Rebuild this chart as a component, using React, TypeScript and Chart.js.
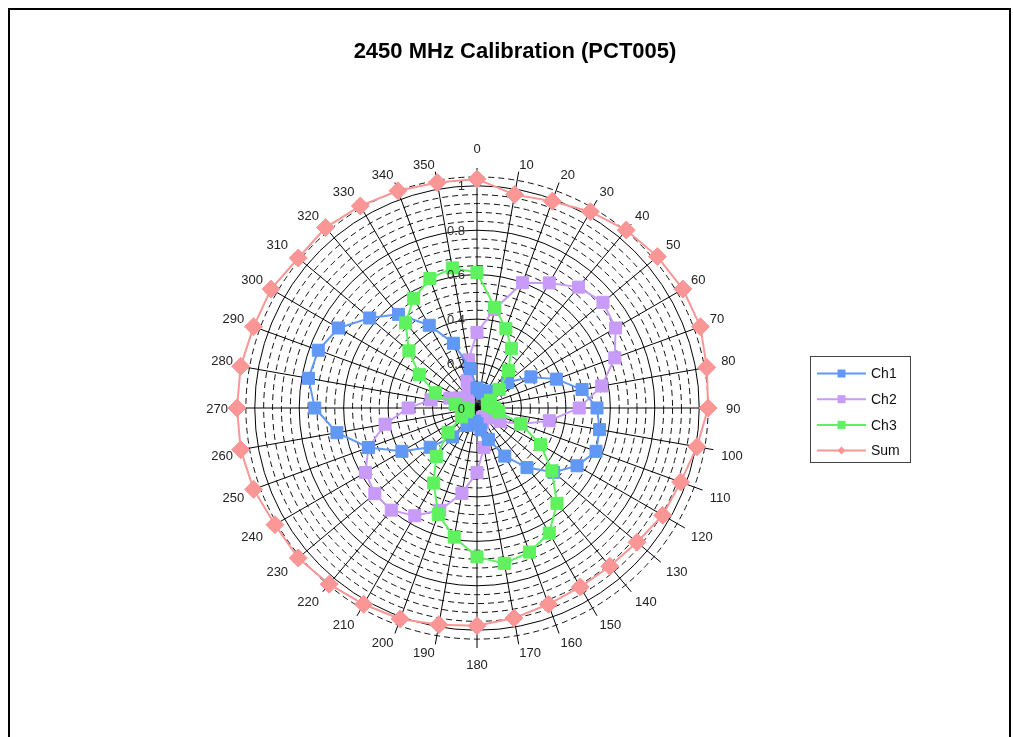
import React, { useEffect, useRef } from "react";
import { Chart, registerables } from "chart.js";

Chart.register(...registerables);

const chartTitle = "2450 MHz Calibration (PCT005)";
const angleLabels = [
  "0", "10", "20", "30", "40", "50", "60", "70", "80", "90", "100", "110",
  "120", "130", "140", "150", "160", "170", "180", "190", "200", "210", "220", "230",
  "240", "250", "260", "270", "280", "290", "300", "310", "320", "330", "340", "350",
];
const ch1 = [
  0.09, 0.08, 0.07, 0.08, 0.1, 0.18, 0.28, 0.38, 0.48, 0.54, 0.56, 0.57,
  0.52, 0.45, 0.35, 0.25, 0.15, 0.1, 0.07, 0.06, 0.07, 0.09, 0.17, 0.275,
  0.39, 0.52, 0.64, 0.73, 0.77, 0.76, 0.72, 0.63, 0.55, 0.43, 0.31, 0.18,
];
const ch2 = [
  0.34, 0.45, 0.6, 0.65, 0.71, 0.74, 0.72, 0.66, 0.57, 0.46, 0.33, 0.21,
  0.12, 0.07, 0.05, 0.05, 0.07, 0.18, 0.29, 0.39, 0.49, 0.56, 0.6, 0.6,
  0.58, 0.52, 0.42, 0.31, 0.21, 0.13, 0.09, 0.07, 0.06, 0.08, 0.13, 0.22,
];
const ch3 = [
  0.61, 0.46, 0.38, 0.31, 0.22, 0.13, 0.07, 0.05, 0.06, 0.08, 0.1, 0.21,
  0.33, 0.44, 0.56, 0.65, 0.69, 0.71, 0.67, 0.59, 0.51, 0.39, 0.285, 0.17,
  0.08, 0.05, 0.04, 0.06, 0.1, 0.2, 0.3, 0.4, 0.5, 0.57, 0.62, 0.64,
];
const sum = [
  1.03, 0.975, 0.99, 1.02, 1.045, 1.06, 1.07, 1.07, 1.05, 1.04, 1.005, 0.975,
  0.965, 0.94, 0.93, 0.93, 0.94, 0.96, 0.98, 0.99, 1.01, 1.02, 1.035, 1.05,
  1.05, 1.07, 1.08, 1.08, 1.08, 1.07, 1.07, 1.05, 1.06, 1.05, 1.04, 1.03,
];
const seriesNames = ["Ch1", "Ch2", "Ch3", "Sum"];
const seriesColors = ["#6198F5", "#C79BF7", "#5EF25E", "#FA9696"];
const radialTicks = [0.2, 0.4, 0.6, 0.8, 1.0];
const radialTickValues = [0, 0.2, 0.4, 0.6, 0.8, 1.0];
const radialTickLabels = ["0", "0.2", "0.4", "0.6", "0.8", "1"];
const minorRings = [
  0.04, 0.08, 0.12, 0.16, 0.24, 0.28, 0.32, 0.36, 0.44, 0.48, 0.52, 0.56,
  0.64, 0.68, 0.72, 0.76, 0.84, 0.88, 0.92, 0.96, 1.04,
];
const scaleMax = 1.08;

const FONT = "'Liberation Sans', Arial, sans-serif";

const polarDecor = {
  id: "polarDecor",
  beforeDatasetsDraw(chart: any) {
    const s = chart.scales.r;
    const ctx = chart.ctx as CanvasRenderingContext2D;
    const cx = s.xCenter;
    const cy = s.yCenter;
    ctx.save();
    ctx.lineWidth = 1;
    ctx.strokeStyle = "#111";
    ctx.setLineDash([6, 4]);
    minorRings.forEach((v) => {
      const r = s.getDistanceFromCenterForValue(v);
      ctx.beginPath();
      ctx.arc(cx, cy, r, 0, Math.PI * 2);
      ctx.stroke();
    });
    ctx.setLineDash([]);
    ctx.strokeStyle = "#000";
    radialTicks.forEach((v) => {
      const r = s.getDistanceFromCenterForValue(v);
      ctx.beginPath();
      ctx.arc(cx, cy, r, 0, Math.PI * 2);
      ctx.stroke();
    });
    angleLabels.forEach((_, i) => {
      const p = s.getPointPositionForValue(i, scaleMax);
      ctx.beginPath();
      ctx.moveTo(cx, cy);
      ctx.lineTo(p.x, p.y);
      ctx.stroke();
    });
    ctx.font = `13px ${FONT}`;
    ctx.fillStyle = "#222";
    ctx.textBaseline = "alphabetic";
    const capH = 9.3;
    angleLabels.forEach((lab, i) => {
      const deg = i * 10;
      const rad = (deg * Math.PI) / 180;
      const sn = Math.sin(rad);
      let dist: number;
      if (deg === 0) dist = 255;
      else if (deg === 180) dist = 252;
      else if (deg === 90 || deg === 270) dist = 249;
      else dist = 242 + 6 * Math.abs(sn);
      const p = s.getPointPosition(i, dist);
      const x = p.x;
      let y = p.y;
      if (deg === 0 || deg === 180) ctx.textAlign = "center";
      else if (deg < 180) ctx.textAlign = "left";
      else ctx.textAlign = "right";
      if (deg === 90 || deg === 270) y += capH / 2;
      else if (deg > 90 && deg < 270) y += capH;
      ctx.fillText(lab, x, y);
    });
    ctx.restore();
  },
  afterDatasetsDraw(chart: any) {
    const s = chart.scales.r;
    const ctx = chart.ctx as CanvasRenderingContext2D;
    ctx.save();
    ctx.font = `13px ${FONT}`;
    ctx.fillStyle = "#333";
    ctx.textAlign = "right";
    ctx.textBaseline = "alphabetic";
    radialTickValues.forEach((v, k) => {
      const p = s.getPointPositionForValue(0, v);
      ctx.fillText(radialTickLabels[k], s.xCenter - 12, p.y + 4.6);
    });
    ctx.restore();
  },
  afterDraw(chart: any) {
    const ctx = chart.ctx as CanvasRenderingContext2D;
    ctx.save();
    ctx.font = `bold 22px ${FONT}`;
    ctx.fillStyle = "#000";
    ctx.textAlign = "center";
    ctx.textBaseline = "middle";
    ctx.fillText(chartTitle, 505, 42);
    const lx = 800;
    const ly = 346;
    ctx.fillStyle = "#fff";
    ctx.fillRect(lx, ly, 100, 106);
    ctx.strokeStyle = "#444";
    ctx.lineWidth = 1;
    ctx.strokeRect(lx + 0.5, ly + 0.5, 100, 106);
    ctx.font = `14px ${FONT}`;
    ctx.textAlign = "left";
    chart.data.datasets.forEach((ds: any, k: number) => {
      const y = ly + 17.5 + k * 25.7;
      ctx.strokeStyle = ds.borderColor;
      ctx.lineWidth = 2;
      ctx.beginPath();
      ctx.moveTo(lx + 7, y);
      ctx.lineTo(lx + 56, y);
      ctx.stroke();
      ctx.fillStyle = ds.borderColor;
      if (ds.pointStyle === "rectRot") {
        ctx.beginPath();
        ctx.moveTo(lx + 31.5 - 4, y);
        ctx.lineTo(lx + 31.5, y - 4);
        ctx.lineTo(lx + 31.5 + 4, y);
        ctx.lineTo(lx + 31.5, y + 4);
        ctx.closePath();
        ctx.fill();
      } else {
        ctx.fillRect(lx + 27.5, y - 4, 8, 8);
      }
      ctx.fillStyle = "#111";
      ctx.fillText(ds.label, lx + 61, y + 1);
    });
    ctx.restore();
  },
};

export default function App() {
  const ref = useRef<HTMLCanvasElement | null>(null);
  useEffect(() => {
    document.documentElement.style.overflow = "hidden";
    if (!ref.current) return;
    const mk = (k: number, data: number[], style: string, radius: number, order: number) => ({
      label: seriesNames[k],
      data,
      borderColor: seriesColors[k],
      backgroundColor: seriesColors[k],
      pointBackgroundColor: seriesColors[k],
      pointBorderColor: seriesColors[k],
      pointBorderWidth: 1,
      pointStyle: style,
      pointRadius: radius,
      borderWidth: 2,
      fill: false,
      tension: 0,
      order,
    });
    const chart = new Chart(ref.current, {
      type: "radar",
      data: {
        labels: angleLabels,
        datasets: [
          mk(0, ch1, "rect", 8.5, 1),
          mk(1, ch2, "rect", 8.5, 2),
          mk(2, ch3, "rect", 8.5, 0),
          mk(3, sum, "rectRot", 9, 3),
        ],
      },
      plugins: [polarDecor],
      options: {
        responsive: false,
        animation: false,
        devicePixelRatio: 1,
        layout: { padding: { left: 227, right: 292, top: 158, bottom: 89 } },
        plugins: {
          legend: { display: false },
          title: { display: false },
          tooltip: { enabled: false },
        },
        scales: {
          r: {
            min: 0,
            max: scaleMax,
            ticks: { display: false },
            grid: { display: false },
            angleLines: { display: false },
            pointLabels: { display: false },
          },
        },
      },
    } as any);
    return () => chart.destroy();
  }, []);
  return (
    <div
      style={{
        position: "fixed",
        left: 8,
        top: 8,
        width: 1003,
        height: 729,
        boxSizing: "border-box",
        borderTop: "2px solid #000",
        borderLeft: "2px solid #000",
        borderRight: "2px solid #000",
        background: "#fff",
        overflow: "hidden",
      }}
    >
      <canvas ref={ref} width={999} height={727} style={{ display: "block" }} />
    </div>
  );
}
